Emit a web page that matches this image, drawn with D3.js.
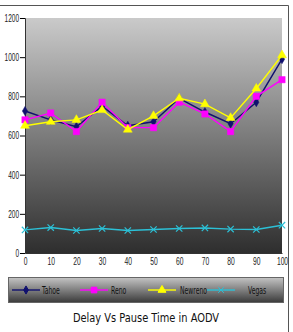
<!DOCTYPE html>
<html>
<head>
<meta charset="utf-8">
<script src="https://cdn.jsdelivr.net/npm/d3@7"></script>
<style>
  body { margin: 0; background: #fff; }
  svg { display: block; font-family: "DejaVu Sans", sans-serif; }
</style>
</head>
<body>
<svg width="293" height="332"></svg>
<script>
const pauseTimes = [0, 10, 20, 30, 40, 50, 60, 70, 80, 90, 100];
const tahoe   = [725, 680, 645, 750, 650, 670, 790, 720, 660, 770, 990];
const reno    = [680, 715, 620, 770, 640, 640, 770, 710, 620, 800, 885];
const newreno = [650, 670, 680, 730, 630, 700, 790, 760, 690, 840, 1010];
const vegas   = [118, 130, 115, 125, 115, 120, 125, 128, 122, 120, 142];
const yTicks = [0, 200, 400, 600, 800, 1000, 1200];
const seriesNames = ["Tahoe", "Reno", "Newreno", "Vegas"];

const series = [
  {name: seriesNames[0], values: tahoe,   color: "#10106e", symbol: d3.symbolDiamond, size: 24},
  {name: seriesNames[1], values: reno,    color: "#ff00ff", symbol: d3.symbolSquare,  size: 40},
  {name: seriesNames[2], values: newreno, color: "#ffff00", symbol: d3.symbolTriangle, size: 34},
  {name: seriesNames[3], values: vegas,   color: "#2cc0d6", symbol: d3.symbolX,       size: 28}
];

const svg = d3.select("svg");
const margin = {left: 25, top: 18, right: 11, bottom: 79};
const width = 293, height = 332;

// squeeze text horizontally, the original uses a narrow face
function condense(sel, f) {
  sel.each(function() {
    const w = this.getComputedTextLength();
    d3.select(this).attr("textLength", w * f).attr("lengthAdjust", "spacingAndGlyphs");
  });
}

const x = d3.scaleLinear().domain([0, 100]).range([margin.left, width - margin.right]);
const y = d3.scaleLinear().domain([0, 1200]).range([height - margin.bottom, margin.top]);

const defs = svg.append("defs");
const grad = defs.append("linearGradient").attr("id", "bg").attr("x1", 0).attr("y1", 0).attr("x2", 0).attr("y2", 1);
grad.append("stop").attr("offset", "0%").attr("stop-color", "#cacaca");
grad.append("stop").attr("offset", "100%").attr("stop-color", "#2e2e2e");
const lgrad = defs.append("linearGradient").attr("id", "lg").attr("x1", 0).attr("y1", 0).attr("x2", 0).attr("y2", 1);
lgrad.append("stop").attr("offset", "0%").attr("stop-color", "#c4c4c4");
lgrad.append("stop").attr("offset", "100%").attr("stop-color", "#3a3a3a");

// outer frame
svg.append("path")
  .attr("d", `M0,5.5 H288.5 V332`)
  .attr("fill", "none").attr("stroke", "#555").attr("stroke-width", 1);

svg.append("rect")
  .attr("x", x(0)).attr("y", y(1200))
  .attr("width", x(100) - x(0)).attr("height", y(0) - y(1200))
  .attr("fill", "url(#bg)");

const yAxis = svg.append("g")
  .attr("transform", `translate(${x(0)},0)`)
  .call(d3.axisLeft(y).tickValues(yTicks).tickFormat(d3.format("d")).tickSize(5).tickPadding(1));
yAxis.selectAll("text").attr("font-size", 10.5).attr("fill", "#222").call(condense, 0.62);

const xAxis = svg.append("g")
  .attr("transform", `translate(0,${y(0)})`)
  .call(d3.axisBottom(x).tickValues(pauseTimes).tickSize(0).tickPadding(5));
xAxis.selectAll("text").attr("font-size", 10.5).attr("fill", "#222").call(condense, 0.64);
xAxis.select(".domain").attr("stroke", "#333");
yAxis.select(".domain").attr("stroke", "#333");

const line = d3.line().x((d, i) => x(pauseTimes[i])).y(d => y(d));

series.forEach(s => {
  svg.append("path")
    .attr("d", line(s.values))
    .attr("fill", "none")
    .attr("stroke", s.color)
    .attr("stroke-width", 1.4);
  svg.append("g").selectAll("path")
    .data(s.values)
    .join("path")
    .attr("transform", (d, i) => `translate(${x(pauseTimes[i])},${y(d)})`)
    .attr("d", d3.symbol().type(s.symbol).size(s.size))
    .attr("fill", s.symbol === d3.symbolX ? "none" : s.color)
    .attr("stroke", s.color)
    .attr("stroke-width", s.symbol === d3.symbolX ? 1.2 : 0.5);
});

// legend
svg.append("rect")
  .attr("x", 8.5).attr("y", 277.5).attr("width", 275).attr("height", 25)
  .attr("fill", "url(#lg)").attr("stroke", "#666");

const legX = [12, 80, 148, 207];
const legTextX = [42, 111, 180, 248];
series.forEach((s, i) => {
  const g = svg.append("g");
  g.append("line")
    .attr("x1", legX[i]).attr("x2", legX[i] + 28)
    .attr("y1", 290).attr("y2", 290)
    .attr("stroke", s.color).attr("stroke-width", 1.4);
  g.append("path")
    .attr("transform", `translate(${legX[i] + 14},290)`)
    .attr("d", d3.symbol().type(s.symbol).size(s.size * 0.8))
    .attr("fill", s.symbol === d3.symbolX ? "none" : s.color)
    .attr("stroke", s.color);
  g.append("text")
    .attr("x", legTextX[i]).attr("y", 294)
    .attr("font-size", 10.5).attr("fill", "#111")
    .text(s.name)
    .call(condense, 0.58);
});

svg.append("text")
  .attr("x", 146).attr("y", 322)
  .attr("text-anchor", "middle")
  .attr("font-size", 12).attr("fill", "#111")
  .text("Delay Vs Pause Time in AODV")
  .call(condense, 0.82);
</script>
</body>
</html>
